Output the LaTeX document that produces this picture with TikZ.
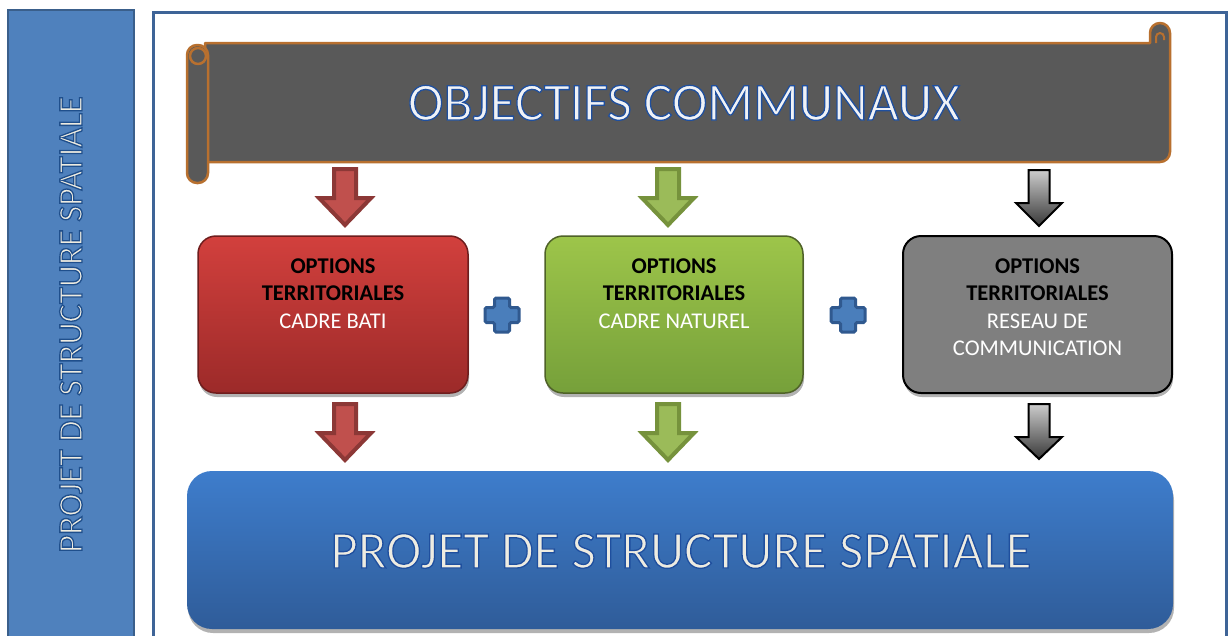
\documentclass[tikz,border=0pt]{standalone}
\usepackage{fontspec}
\setmainfont{Carlito}
\usetikzlibrary{calc,shadows}
\definecolor{panelfill}{HTML}{4F81BD}
\definecolor{panelborder}{HTML}{3A5F8B}
\definecolor{frameblue}{HTML}{3E6497}
\definecolor{scrollgrey}{HTML}{595959}
\definecolor{scrollorange}{HTML}{B8702F}
\definecolor{redtop}{HTML}{D2403D}
\definecolor{redbot}{HTML}{9C2A29}
\definecolor{redborder}{HTML}{6E1D1D}
\definecolor{redarrow}{HTML}{C0504D}
\definecolor{redarrowb}{HTML}{8C3836}
\definecolor{greentop}{HTML}{9DC54A}
\definecolor{greenbot}{HTML}{76A03A}
\definecolor{greenborder}{HTML}{4F6228}
\definecolor{greenarrow}{HTML}{9BBB59}
\definecolor{greenarrowb}{HTML}{76923C}
\definecolor{greyfill}{HTML}{7F7F7F}
\definecolor{bluetop}{HTML}{3E7DCC}
\definecolor{bluebot}{HTML}{2F5C99}
\definecolor{plusfill}{HTML}{4A7EBB}
\definecolor{plusborder}{HTML}{30598F}
\definecolor{cream}{HTML}{EEECE1}
\definecolor{offwhite}{HTML}{F0F2F6}
\newcommand\outlinetext[2]{\special{pdf:literal direct #1 RG 1.3 w 2 Tr}#2\special{pdf:literal direct 0 Tr}}
\newcommand\blockarrow[6]{\draw[#1] ($(#2)+(-#4,0)$) -- ($(#3)+(-#4,-#6)$) -- ($(#3)+(-#5,-#6)$) -- (#3) -- ($(#3)+(#5,-#6)$) -- ($(#3)+(#4,-#6)$) -- ($(#2)+(#4,0)$) -- cycle;}
\newcommand\plussign[1]{\draw[plusstyle] ($(#1)+(-7.5,-17)$) -- ($(#1)+(7.5,-17)$) -- ($(#1)+(7.5,-7.5)$) -- ($(#1)+(17,-7.5)$) -- ($(#1)+(17,7.5)$) -- ($(#1)+(7.5,7.5)$) -- ($(#1)+(7.5,17)$) -- ($(#1)+(-7.5,17)$) -- ($(#1)+(-7.5,7.5)$) -- ($(#1)+(-17,7.5)$) -- ($(#1)+(-17,-7.5)$) -- ($(#1)+(-7.5,-7.5)$) -- cycle;}
\begin{document}
\begin{tikzpicture}[x=1pt,y=-1pt,
  scroll/.style={fill=scrollgrey, draw=scrollorange, line width=2.5pt, line join=round},
  optbox/.style={rectangle, rounded corners=18pt, inner sep=0pt, minimum height=157pt, line width=1.5pt,
    drop shadow={shadow xshift=1pt, shadow yshift=-4pt, opacity=0.3, fill=black}},
  boxtext/.style={anchor=base, align=center, text=black, font=\fontsize{22.5}{27.5}\selectfont},
  redarr/.style={fill=redarrow, draw=redarrowb, line width=4pt, line join=miter},
  greenarr/.style={fill=greenarrow, draw=greenarrowb, line width=4pt, line join=miter},
  greyarr/.style={top color=white!80!black, bottom color=black!78, draw=black, line width=2pt, line join=miter},
  plusstyle/.style={fill=plusfill, draw=plusborder, line width=3pt, rounded corners=1.5pt}]
\useasboundingbox (0,0) rectangle (1228,635);
% left panel
\draw[fill=panelfill, draw=panelborder, line width=2.5pt] (8,10) rectangle (134,650);
\node[anchor=base, rotate=90, text=cream, font=\fontsize{34.5}{34.5}\selectfont] (side) at (82,324.5)
  {\outlinetext{0.12 0.31 0.55}{PROJET DE STRUCTURE SPATIALE}};
% main frame
\draw[fill=white, draw=frameblue, line width=3pt] (153,12) rectangle (1226,650);
% scroll banner
\draw[scroll] (205,43) -- (1150,43) -- (1150,33) arc[start angle=180, end angle=360, radius=10]
  -- (1170,152) arc[start angle=0, end angle=90, radius=10] -- (205,162) -- cycle;
\draw[scrollorange, line width=2pt] (1156,43) -- (1156,37) arc[start angle=180, end angle=360, radius=4] -- (1164,40);
\draw[scroll, rounded corners=10pt] (187,45) rectangle (208,183);
\draw[scroll] (198,56) circle[radius=8];
\node[anchor=base, text=offwhite, font=\fontsize{53.5}{53.5}\selectfont] (obj) at (684,120)
  {\outlinetext{0.12 0.31 0.62}{OBJECTIFS COMMUNAUX}};
% option boxes
\node[optbox, minimum width=270pt, top color=redtop, bottom color=redbot, draw=redborder] (rbox) at (333,314.5) {};
\node[optbox, minimum width=258pt, top color=greentop, bottom color=greenbot, draw=greenborder] (gbox) at (674,314.5) {};
\node[optbox, minimum width=269pt, fill=greyfill, draw=black, line width=2pt] (kbox) at (1037.5,314.5) {};
\node[boxtext] (rtext) at (rbox.center |- 0,328) {\textbf{OPTIONS}\\\textbf{TERRITORIALES}\\\textcolor{white}{CADRE BATI}};
\node[boxtext] (gtext) at (gbox.center |- 0,328) {\textbf{OPTIONS}\\\textbf{TERRITORIALES}\\\textcolor{white}{CADRE NATUREL}};
\node[boxtext] (ktext) at (kbox.center |- 0,355.5) {\textbf{OPTIONS}\\\textbf{TERRITORIALES}\\\textcolor{white}{RESEAU DE}\\\textcolor{white}{COMMUNICATION}};
% bottom box
\node[rectangle, rounded corners=25pt, minimum width=986pt, minimum height=158pt, top color=bluetop, bottom color=bluebot,
  drop shadow={shadow xshift=1pt, shadow yshift=-4pt, opacity=0.3, fill=black}] (pbox) at (680,550) {};
\node[anchor=base, text=cream, font=\fontsize{53}{53}\selectfont] (ptext) at (681,568)
  {\outlinetext{0.12 0.31 0.62}{PROJET DE STRUCTURE SPATIALE}};
% plus signs
\coordinate (p1) at (502,315);
\coordinate (p2) at (848,315);
\plussign{p1}
\plussign{p2}
% arrow end points
\coordinate (a1s) at (345,169);
\coordinate (a1e) at (345,225);
\coordinate (a2s) at (668,169);
\coordinate (a2e) at (668,225);
\coordinate (a3s) at (1039,170);
\coordinate (a3e) at (1039,226);
\coordinate (b1s) at (345,404);
\coordinate (b1e) at (345,460);
\coordinate (b2s) at (668,404);
\coordinate (b2e) at (668,460);
\coordinate (b3s) at (1039,404);
\coordinate (b3e) at (1039,459);
\blockarrow{redarr}{a1s}{a1e}{11}{26}{27}
\blockarrow{greenarr}{a2s}{a2e}{11}{26}{27}
\blockarrow{greyarr}{a3s}{a3e}{10.5}{23}{23}
\blockarrow{redarr}{b1s}{b1e}{11}{26}{27}
\blockarrow{greenarr}{b2s}{b2e}{11}{26}{27}
\blockarrow{greyarr}{b3s}{b3e}{10.5}{23}{22}
\end{tikzpicture}
\end{document}
